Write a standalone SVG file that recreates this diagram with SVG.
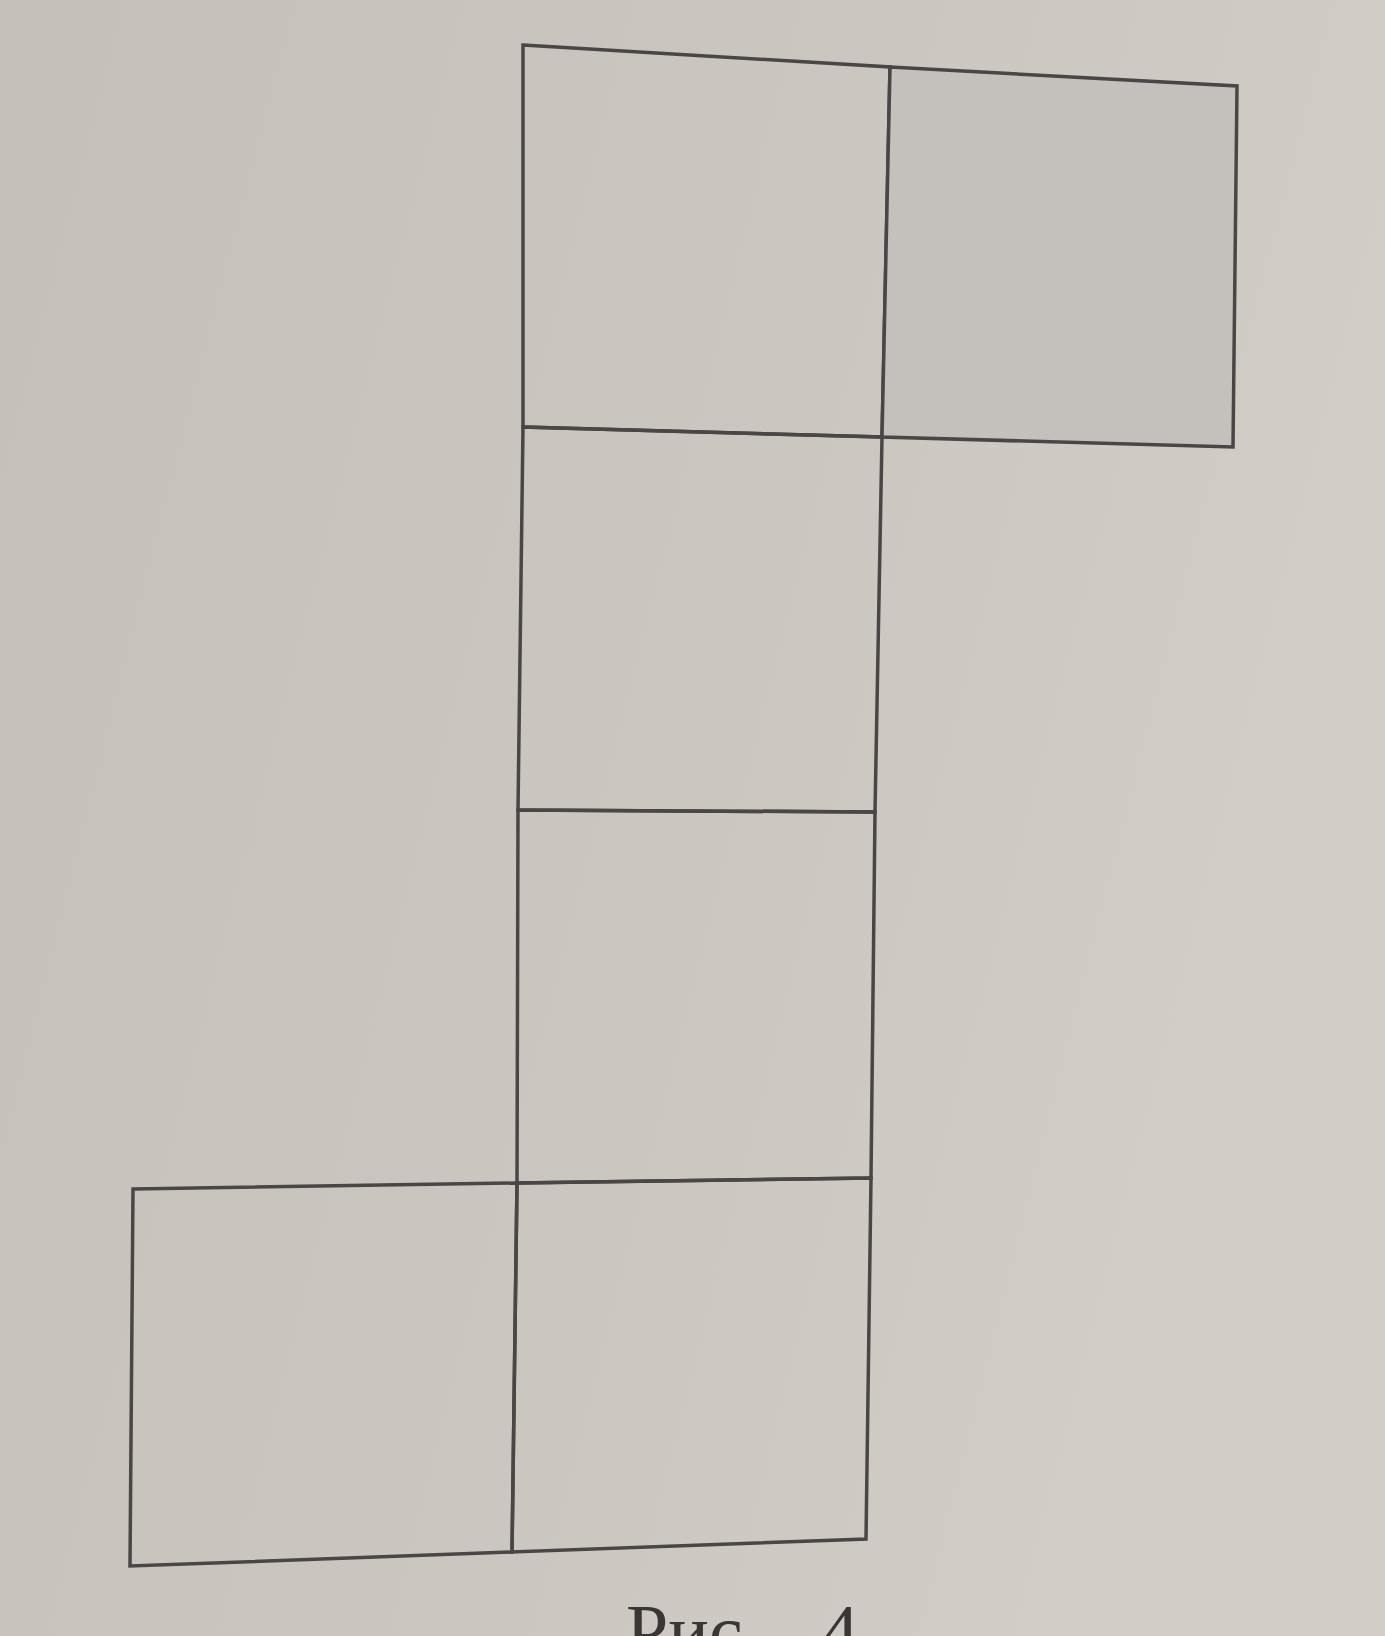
<svg xmlns="http://www.w3.org/2000/svg" width="1385" height="1636" viewBox="0 0 1385 1636">
<defs>
<linearGradient id="bg" x1="0" y1="0" x2="1" y2="0.3">
<stop offset="0" stop-color="#c5c0ba"/>
<stop offset="0.6" stop-color="#cbc6c0"/>
<stop offset="1" stop-color="#d2cdc5"/>
</linearGradient>
<style>
.face{fill:none;stroke:#4a4546;stroke-width:3.5;stroke-linejoin:miter}
.cap{font-family:"Liberation Serif",serif;font-size:76px;fill:#3a3636}
</style>
</defs>
<rect width="1385" height="1636" fill="url(#bg)"/>
<g id="face1"><polygon class="face" points="523,45 890,67 882,437 523,427"/></g>
<g id="face2"><polygon class="face" points="890,67 1237,86 1233,447 882,437" style="fill:#c4c0bb"/></g>
<g id="face3"><polygon class="face" points="523,427 882,437 875,812 518,810"/></g>
<g id="face4"><polygon class="face" points="518,810 875,812 871,1178 517,1183"/></g>
<g id="face5"><polygon class="face" points="517,1183 871,1178 866,1539 512,1552"/></g>
<g id="face6"><polygon class="face" points="133,1189 517,1183 512,1552 130,1566"/></g>
<g id="connectors"></g>
<text class="cap" x="626" y="1657" word-spacing="40">Рис. 4</text>
</svg>
